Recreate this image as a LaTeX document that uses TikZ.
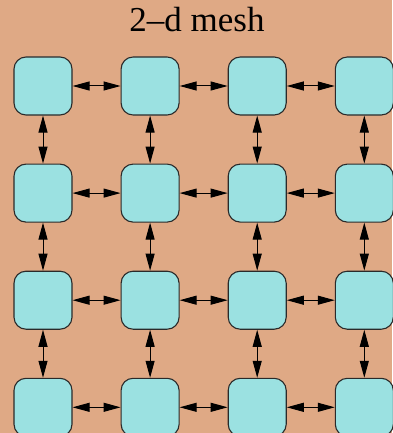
\documentclass[tikz,border=0pt]{standalone}
\usepackage{fontspec}
\setmainfont{Liberation Serif}
\usepackage{tikz}
\usetikzlibrary{
  arrows.meta,
  positioning
}
\definecolor{meshbg}{HTML}{DFA985}
\definecolor{nodecyan}{HTML}{9BE1E1}
\definecolor{edgegray}{HTML}{2A2A2A}

\begin{document}
\begin{tikzpicture}[
    node distance=48pt,
    % Styles
    proc/.style={
        rectangle, rounded corners=12pt,
        draw=edgegray, line width=1.1pt,
        fill=nodecyan,
        minimum width=58pt, minimum height=58pt,
        inner sep=0pt
    },
    link/.style={
        {Triangle[length=17pt,width=9pt]}-{Triangle[length=17pt,width=9pt]},
        line width=1pt, color=black
    }
]

% ── BACKGROUND ──
\fill[meshbg] (0,0) rectangle (392pt,-433pt);
\useasboundingbox (0,0) rectangle (392pt,-433pt);

% ── TITLE ──
\node[anchor=base, inner sep=0pt, font=\fontsize{35}{40}\selectfont] (title) at (197pt,-32pt) {2–d mesh};

% ── ROW 1 ──
\node[proc] (p11) at (43pt,-86pt) {};
\node[proc, right=of p11] (p12) {};
\node[proc, right=of p12] (p13) {};
\node[proc, right=of p13] (p14) {};

% ── ROW 2 ──
\node[proc, below=of p11] (p21) {};
\node[proc, right=of p21] (p22) {};
\node[proc, right=of p22] (p23) {};
\node[proc, right=of p23] (p24) {};

% ── ROW 3 ──
\node[proc, below=of p21] (p31) {};
\node[proc, right=of p31] (p32) {};
\node[proc, right=of p32] (p33) {};
\node[proc, right=of p33] (p34) {};

% ── ROW 4 ──
\node[proc, below=of p31] (p41) {};
\node[proc, right=of p41] (p42) {};
\node[proc, right=of p42] (p43) {};
\node[proc, right=of p43] (p44) {};

% ── HORIZONTAL LINKS ──
\draw[link] (p11) -- (p12);
\draw[link] (p12) -- (p13);
\draw[link] (p13) -- (p14);
\draw[link] (p21) -- (p22);
\draw[link] (p22) -- (p23);
\draw[link] (p23) -- (p24);
\draw[link] (p31) -- (p32);
\draw[link] (p32) -- (p33);
\draw[link] (p33) -- (p34);
\draw[link] (p41) -- (p42);
\draw[link] (p42) -- (p43);
\draw[link] (p43) -- (p44);

% ── VERTICAL LINKS ──
\draw[link] (p11) -- (p21);
\draw[link] (p21) -- (p31);
\draw[link] (p31) -- (p41);
\draw[link] (p12) -- (p22);
\draw[link] (p22) -- (p32);
\draw[link] (p32) -- (p42);
\draw[link] (p13) -- (p23);
\draw[link] (p23) -- (p33);
\draw[link] (p33) -- (p43);
\draw[link] (p14) -- (p24);
\draw[link] (p24) -- (p34);
\draw[link] (p34) -- (p44);

\end{tikzpicture}
\end{document}
